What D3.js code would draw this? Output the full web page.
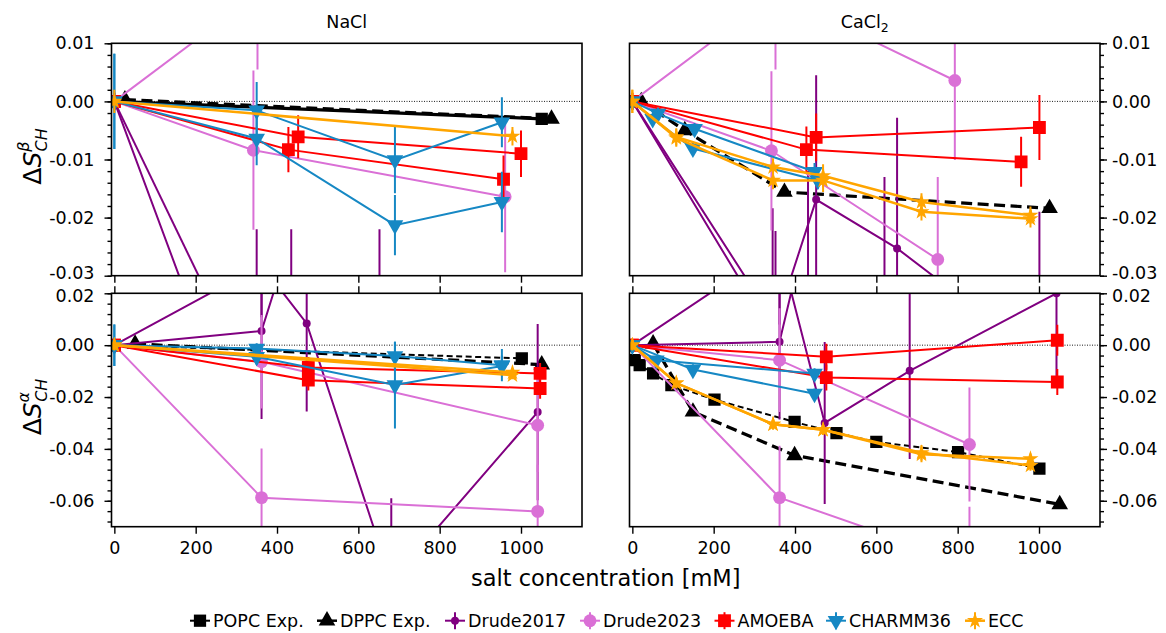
<!DOCTYPE html>
<html><head><meta charset="utf-8">
<script src="https://cdn.jsdelivr.net/npm/d3@7"></script>
<style>body{margin:0;background:#fff} text{font-family:"DejaVu Sans",sans-serif;fill:#000}</style>
</head><body><svg id="c" width="1166" height="633"></svg>
<script>
// ---------- data ----------
const xTicks = [0, 200, 400, 600, 800, 1000];
const betaTicks = [0.01, 0.00, -0.01, -0.02, -0.03];
const alphaTicks = [0.02, 0.00, -0.02, -0.04, -0.06];
const panelTitles = ["NaCl", "CaCl2"];
const seriesNames = ["POPC Exp.", "DPPC Exp.", "Drude2017", "Drude2023", "AMOEBA", "CHARMM36", "ECC"];
const seriesColors = ["#000000", "#000000", "#800080", "#da70d6", "#ff0000", "#1688c4", "#ffa500"];
// each entry: [panel, [[x, y, err], ...]]   panels: 0 NaCl beta, 1 CaCl2 beta, 2 NaCl alpha, 3 CaCl2 alpha
const popcExp = [
  [0, [[0,0],[1051,-0.003]]],
  [2, [[0,0],[1002,-0.0051]]],
  [3, [[6,-0.0058],[18,-0.0077],[51,-0.0109],[96,-0.0154],[202,-0.021],[399,-0.0296],[502,-0.0339],[600,-0.0373],[801,-0.0412],[1001,-0.0476]]]
];
const dppcExp = [
  [0, [[26,0.0003],[1075,-0.003]]],
  [1, [[22,0],[129,-0.005],[374,-0.0156],[1026,-0.0184]]],
  [2, [[51,0.0005],[1051,-0.0075]]],
  [3, [[51,0.0006],[149,-0.0257],[399,-0.0425],[1051,-0.0614]]]
];
const drude2017 = [
  [0, [[0,0,0],[350,-0.066,0.044],[652,-0.075,0.053]]],
  [0, [[0,0,0],[435,-0.063,0.041]]],
  [1, [[0,0,0],[345,-0.040,0.0216],[452,-0.0169,0.0214],[651,-0.0253,0.0225],[1001,-0.044,0.025]]],
  [1, [[0,0,0],[352,-0.0383,0.016],[432,-0.047,0.035],[620,-0.050,0.037]]],
  [2, [[0,0,0],[362,0.0055,0.034],[473,0.061,0.03]]],
  [2, [[0,0,0],[362,0.0308,0.02],[473,0.0084,0.034],[681,-0.091,0.032],[1041,-0.0258,0.034]]],
  [3, [[0,0,0],[362,0.0013,0.03],[473,0.075,0.03]]],
  [3, [[0,0,0],[362,0.038,0.03],[473,-0.030,0.0312],[682,-0.0099,0.034],[1043,0.020,0.032]]]
];
const drude2023 = [
  [0, [[0,0,0],[352,0.0185,0.013]]],
  [0, [[0,0,0],[342,-0.0084,0.0137],[961,-0.0164,0.013]]],
  [1, [[0,0,0],[352,0.0185,0.013],[793,0.0036,0.0137]]],
  [1, [[0,0,0],[342,-0.0085,0.0137],[751,-0.0272,0.0142]]],
  [2, [[0,0,0],[362,-0.0064,0.018],[1041,-0.0309,0.018]]],
  [2, [[0,0,0],[362,-0.0588,0.019],[1041,-0.0641,0.018]]],
  [3, [[0,0,0],[362,-0.0058,0.02],[829,-0.0383,0.022]]],
  [3, [[0,0,0],[362,-0.0588,0.02],[829,-0.0843,0.022]]]
];
const amoeba = [
  [0, [[0,0,0.0015],[428,-0.0083,0.0039],[957,-0.0134,0.0041]]],
  [0, [[0,0,0.0015],[452,-0.0061,0.0037],[1000,-0.009,0.004]]],
  [1, [[0,0,0.0015],[428,-0.0083,0.004],[956,-0.0104,0.0043]]],
  [1, [[0,0,0.0015],[452,-0.0062,0.0041],[1001,-0.0045,0.0056]]],
  [2, [[0,0,0.002],[477,-0.0086,0.004],[1047,-0.0109,0.004]]],
  [2, [[0,0,0.002],[477,-0.0135,0.004],[1047,-0.0167,0.004]]],
  [3, [[0,0,0.002],[477,-0.0045,0.005],[1045,0.0019,0.006]]],
  [3, [[0,0,0.002],[477,-0.0125,0.005],[1045,-0.0142,0.005]]]
];
const charmm36 = [
  [0, [[0,0,0.0082],[350,-0.00155,0.0049],[690,-0.0101,0.0057],[953,-0.0036,0.0043]]],
  [0, [[0,0,0.0082],[350,-0.0064,0.0046],[690,-0.0213,0.0052],[953,-0.0173,0.0052]]],
  [1, [[0,0,0.001],[63,-0.0021,0.001],[153,-0.0047,0.001],[448,-0.0121,0.0015]]],
  [1, [[0,0,0.001],[50,-0.003,0.001],[149,-0.0081,0.001],[456,-0.0136,0.0015]]],
  [2, [[0,0,0.008],[350,-0.0013,0.002],[690,-0.0042,0.0055],[953,-0.0077,0.0062]]],
  [2, [[0,0,0.008],[350,-0.0045,0.003],[690,-0.0154,0.0167],[953,-0.008,0.004]]],
  [3, [[0,0,0.002],[59,-0.0058,0.001],[448,-0.0109,0.002]]],
  [3, [[0,0,0.002],[149,-0.0094,0.002],[448,-0.0187,0.002]]]
];
const ecc = [
  [0, [[0,0,0.002],[979,-0.006,0.0016]]],
  [1, [[0,0,0.002],[108,-0.0061,0.0015],[346,-0.0113,0.0015],[469,-0.0128,0.002],[711,-0.0173,0.0015],[979,-0.0196,0.0015]]],
  [1, [[0,0,0.002],[108,-0.0063,0.0015],[346,-0.0136,0.0015],[469,-0.0136,0.002],[711,-0.019,0.0015],[979,-0.0202,0.0015]]],
  [2, [[0,0,0.002],[979,-0.0116,0.0015]]],
  [2, [[0,0,0.002],[979,-0.0105,0.0015]]],
  [3, [[0,0,0.002],[108,-0.0146,0.002],[346,-0.0305,0.002],[469,-0.0326,0.002],[711,-0.0421,0.003],[979,-0.0438,0.002]]],
  [3, [[0,0,0.002],[108,-0.0146,0.002],[346,-0.0305,0.002],[469,-0.0326,0.002],[711,-0.0415,0.003],[979,-0.0464,0.002]]]
];
const seriesData = [popcExp, dppcExp, drude2017, drude2023, amoeba, charmm36, ecc];

// ---------- styles ----------
const styles = [
  {sym: d3.symbolSquare, size: 150, lw: 2, dash: "6,3.5", rot: 0},
  {sym: d3.symbolTriangle, size: 120, lw: 3.2, dash: "11,5.5", rot: 0},
  {sym: d3.symbolCircle, size: 50, lw: 2, dash: null, rot: 0},
  {sym: d3.symbolCircle, size: 130, lw: 2, dash: null, rot: 0},
  {sym: d3.symbolSquare, size: 165, lw: 2, dash: null, rot: 0},
  {sym: d3.symbolTriangle, size: 120, lw: 2, dash: null, rot: 180},
  {sym: d3.symbolStar, size: 80, lw: 2.5, dash: null, rot: 0}
];
const solidPopcPanels = [0];
const FS = 17.5;

const svg = d3.select("#c");
const fmt = v => d3.format(".2f")(v).replace("\u2212", "-");
const colX = [[111.5, 582], [629.5, 1100]];
const rowY = [[43.3, 275.7], [293.3, 526.7]];
const yDomains = [[-0.03, 0.01], [-0.07, 0.02]];
const panels = [];
for (let p = 0; p < 4; p++) {
  const col = p % 2, row = Math.floor(p / 2);
  const x = d3.scaleLinear().domain([-7, 1150]).range(colX[col]);
  const y = d3.scaleLinear().domain(yDomains[row]).range([rowY[row][1], rowY[row][0]]);
  panels.push({p, col, row, x, y});
}

const defs = svg.append("defs");
panels.forEach(P => {
  defs.append("clipPath").attr("id", "clip" + P.p).append("rect")
    .attr("x", P.x.range()[0]).attr("y", P.y.range()[1])
    .attr("width", P.x.range()[1] - P.x.range()[0]).attr("height", P.y.range()[0] - P.y.range()[1]);
});

panels.forEach(P => {
  const g = svg.append("g");
  const [x0, x1] = P.x.range(), [yb, yt] = P.y.range();
  const plot = g.append("g").attr("clip-path", `url(#clip${P.p})`);
  plot.append("line").attr("x1", x0).attr("x2", x1).attr("y1", P.y(0)).attr("y2", P.y(0))
    .attr("stroke", "#000").attr("stroke-width", 0.9).attr("stroke-dasharray", "1,1.5");
  seriesData.forEach((arr, si) => {
    const st = styles[si], color = seriesColors[si];
    arr.filter(d => d[0] === P.p).forEach(d => {
      const pts = d[1];
      const sg = plot.append("g");
      let lw = st.lw, dash = st.dash;
      if (si === 0 && solidPopcPanels.includes(P.p)) { lw = 3.2; dash = null; }
      sg.append("path").attr("d", d3.line().x(q => P.x(q[0])).y(q => P.y(q[1]))(pts))
        .attr("fill", "none").attr("stroke", color).attr("stroke-width", lw)
        .attr("stroke-dasharray", dash);
      pts.filter(q => q[2]).forEach(q => {
        sg.append("line").attr("x1", P.x(q[0])).attr("x2", P.x(q[0]))
          .attr("y1", P.y(q[1] - q[2])).attr("y2", P.y(q[1] + q[2]))
          .attr("stroke", color).attr("stroke-width", 2);
      });
      pts.forEach(q => {
        sg.append("path").attr("d", d3.symbol().type(st.sym).size(st.size)())
          .attr("transform", `translate(${P.x(q[0])},${P.y(q[1])}) rotate(${st.rot})`)
          .attr("fill", color);
      });
    });
  });
  g.append("rect").attr("x", x0).attr("y", yt).attr("width", x1 - x0).attr("height", yb - yt)
    .attr("fill", "none").attr("stroke", "#000").attr("stroke-width", 1.6);
  g.append("g").attr("transform", `translate(0,${yb})`)
    .call(d3.axisBottom(P.x).tickValues(xTicks).tickSize(7).tickPadding(8).tickFormat(P.row === 1 ? d3.format("d") : ""));
  if (P.row === 1) {
    g.append("g").attr("transform", `translate(0,${yt})`)
      .call(d3.axisTop(P.x).tickValues(xTicks).tickSize(7).tickFormat(""));
  }
  const ticks = P.row === 0 ? betaTicks : alphaTicks;
  const minorStep = P.row === 0 ? 0.002 : 0.004;
  const minor = d3.range(Math.round(yDomains[P.row][0] / minorStep), Math.round(yDomains[P.row][1] / minorStep) + 1)
    .map(i => i * minorStep);
  const axisY = P.col === 0 ? d3.axisLeft : d3.axisRight;
  const xa = P.col === 0 ? x0 : x1;
  g.append("g").attr("transform", `translate(${xa},0)`)
    .call(axisY(P.y).tickValues(minor).tickSize(4).tickFormat(""));
  const major = g.append("g").attr("transform", `translate(${xa},0)`)
    .call(axisY(P.y).tickValues(ticks).tickSize(7).tickPadding(P.col === 0 ? 10 : 5).tickFormat(fmt));
  // keep the two labels that meet at the panel gap from touching
  const edgeVal = P.row === 0 ? d3.min(ticks) : d3.max(ticks);
  major.selectAll(".tick").filter(v => v === edgeVal).select("text")
    .attr("transform", `translate(0,${P.row === 0 ? -2.5 : 2.5})`);
  g.selectAll(".domain").remove();
  g.selectAll(".tick line").attr("stroke", "#000").attr("stroke-width", 1.4);
  g.selectAll(".tick text").attr("font-size", FS).attr("font-family", "DejaVu Sans").attr("fill", "#000");
});

// titles
svg.append("text").attr("x", (colX[0][0] + colX[0][1]) / 2).attr("y", 28)
  .attr("text-anchor", "middle").attr("font-size", FS).text(panelTitles[0]);
const t1 = svg.append("text").attr("x", (colX[1][0] + colX[1][1]) / 2).attr("y", 28)
  .attr("text-anchor", "middle").attr("font-size", FS);
t1.append("tspan").text("CaCl");
t1.append("tspan").attr("font-size", 12.5).attr("dy", 4).text("2");

// y labels
[["\u03b2", 0], ["\u03b1", 1]].forEach(([sup, r]) => {
  const cy = (rowY[r][0] + rowY[r][1]) / 2 - 3;
  const t = svg.append("text").attr("transform", `translate(41,${cy}) rotate(-90)`)
    .attr("text-anchor", "middle").attr("font-size", 25);
  t.append("tspan").text("\u0394");
  t.append("tspan").attr("font-style", "italic").text("S");
  t.append("tspan").attr("font-style", "italic").attr("font-size", 16).attr("dy", -12).text(sup);
  t.append("tspan").attr("font-style", "italic").attr("font-size", 16).attr("dx", -10).attr("dy", 18).text("CH");
});

// x label
svg.append("text").attr("x", (colX[0][0] + colX[1][1]) / 2).attr("y", 586)
  .attr("text-anchor", "middle").attr("font-size", 22.5).text("salt concentration [mM]");

// legend
const legX = [200, 327, 455, 590, 724.5, 836, 975];
const legY = 620.7;
seriesNames.forEach((name, i) => {
  const st = styles[i], color = seriesColors[i];
  const lg = svg.append("g");
  lg.append("line").attr("x1", legX[i] - 10).attr("x2", legX[i] + 10).attr("y1", legY).attr("y2", legY)
    .attr("stroke", color).attr("stroke-width", Math.min(st.lw, 2.5));
  if (i >= 2) {
    lg.append("line").attr("x1", legX[i]).attr("x2", legX[i]).attr("y1", legY - 8.5).attr("y2", legY + 8.5)
      .attr("stroke", color).attr("stroke-width", 2);
  }
  lg.append("path").attr("d", d3.symbol().type(st.sym).size(st.size)())
    .attr("transform", `translate(${legX[i]},${legY}) rotate(${st.rot})`).attr("fill", color);
  lg.append("text").attr("x", legX[i] + 13).attr("y", legY + 6.3).attr("font-size", FS).text(name);
});
</script></body></html>
